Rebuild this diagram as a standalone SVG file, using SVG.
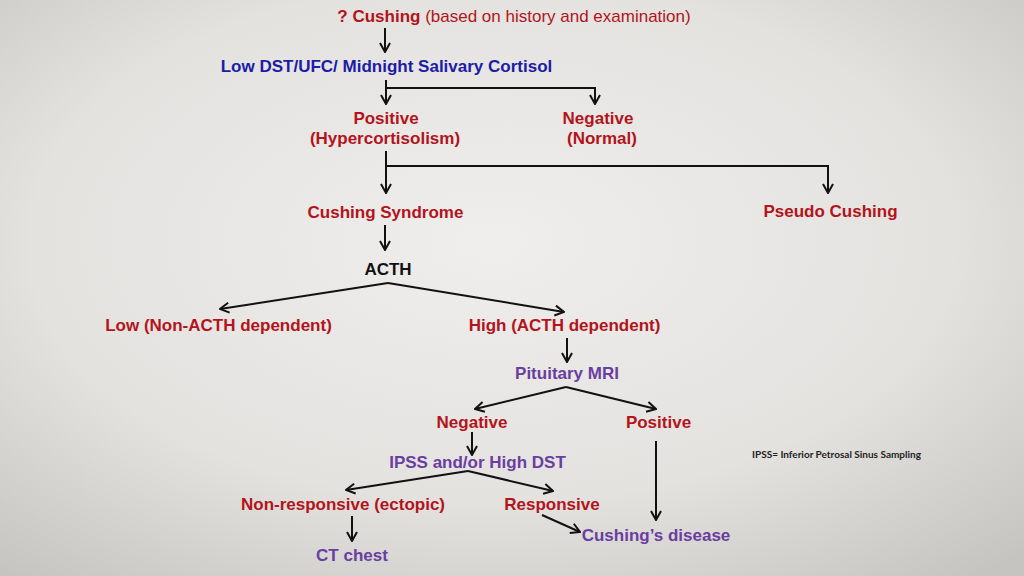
<svg xmlns="http://www.w3.org/2000/svg" width="1024" height="576" viewBox="0 0 1024 576">
<defs>
<radialGradient id="bg" cx="0.48" cy="0.42" r="0.75">
<stop offset="0" stop-color="#efeeec"/>
<stop offset="0.6" stop-color="#e3e2df"/>
<stop offset="1" stop-color="#c6c4c0"/>
</radialGradient>
<marker id="ah" markerUnits="userSpaceOnUse" viewBox="0 0 12 12" refX="11" refY="6" markerWidth="12" markerHeight="12" orient="auto">
<path d="M2,1 L11,6 L2,11" fill="none" stroke="#111" stroke-width="2" stroke-linejoin="miter"/>
</marker>
<style>
text{font-family:"Liberation Sans",Arial,sans-serif;font-weight:bold;font-size:17px;text-anchor:middle}
.red{fill:#b3141c}
.blue{fill:#1c1ca6}
.pur{fill:#6a3ea0}
.blk{fill:#111}
.note{font-family:Lato,"Liberation Sans",sans-serif;font-size:9.5px;text-anchor:start;fill:#222}
.c{fill:none;stroke:#111;stroke-width:2}
.a{marker-end:url(#ah)}
</style>
</defs>
<rect width="1024" height="576" fill="url(#bg)"/>
<g id="connectors">
<path class="c a" d="M385,28 V52"/>
<path class="c a" d="M386,80 V104"/>
<path class="c a" d="M386,88 H595 V104"/>
<path class="c a" d="M386,151 V193"/>
<path class="c a" d="M386,166 H828 V193"/>
<path class="c a" d="M385,225 V250"/>
<path class="c a" d="M388,283 L220,309"/>
<path class="c a" d="M388,283 L564,312"/>
<path class="c a" d="M567,338 V362"/>
<path class="c a" d="M566,387 L475,409"/>
<path class="c a" d="M566,387 L656,409"/>
<path class="c a" d="M472,432 V455"/>
<path class="c a" d="M468,471 L346,490"/>
<path class="c a" d="M468,471 L553,491"/>
<path class="c a" d="M352,516 V541"/>
<path class="c a" d="M542,515 L580,532"/>
<path class="c a" d="M656,441 V520"/>
</g>
<g id="n-start"><text class="red" x="514" y="22">? Cushing <tspan font-weight="normal">(based on history and examination)</tspan></text></g>
<g id="n-tests"><text class="blue" x="386.5" y="72">Low DST/UFC/ Midnight Salivary Cortisol</text></g>
<g id="n-positive"><text class="red" x="386" y="124">Positive</text><text class="red" x="385" y="144">(Hypercortisolism)</text></g>
<g id="n-negative"><text class="red" x="598" y="124">Negative</text><text class="red" x="602" y="144">(Normal)</text></g>
<g id="n-cushing-syndrome"><text class="red" x="385.5" y="218">Cushing Syndrome</text></g>
<g id="n-pseudo"><text class="red" x="830.5" y="217">Pseudo Cushing</text></g>
<g id="n-acth"><text class="blk" x="388" y="275">ACTH</text></g>
<g id="n-low"><text class="red" x="218.5" y="331">Low (Non-ACTH dependent)</text></g>
<g id="n-high"><text class="red" x="564.5" y="331">High (ACTH dependent)</text></g>
<g id="n-mri"><text class="pur" x="567" y="379">Pituitary MRI</text></g>
<g id="n-mri-neg"><text class="red" x="472" y="428">Negative</text></g>
<g id="n-mri-pos"><text class="red" x="658.5" y="428">Positive</text></g>
<g id="n-ipss"><text class="pur" x="477.5" y="468">IPSS and/or High DST</text></g>
<g id="n-nonresp"><text class="red" x="343" y="510">Non-responsive (ectopic)</text></g>
<g id="n-resp"><text class="red" x="552" y="510">Responsive</text></g>
<g id="n-ct"><text class="pur" x="352" y="561">CT chest</text></g>
<g id="n-disease"><text class="pur" x="656" y="541">Cushing’s disease</text></g>
<g id="n-note"><text class="note" x="752" y="458" textLength="169" lengthAdjust="spacingAndGlyphs">IPSS= Inferior Petrosal Sinus Sampling</text></g>
</svg>
